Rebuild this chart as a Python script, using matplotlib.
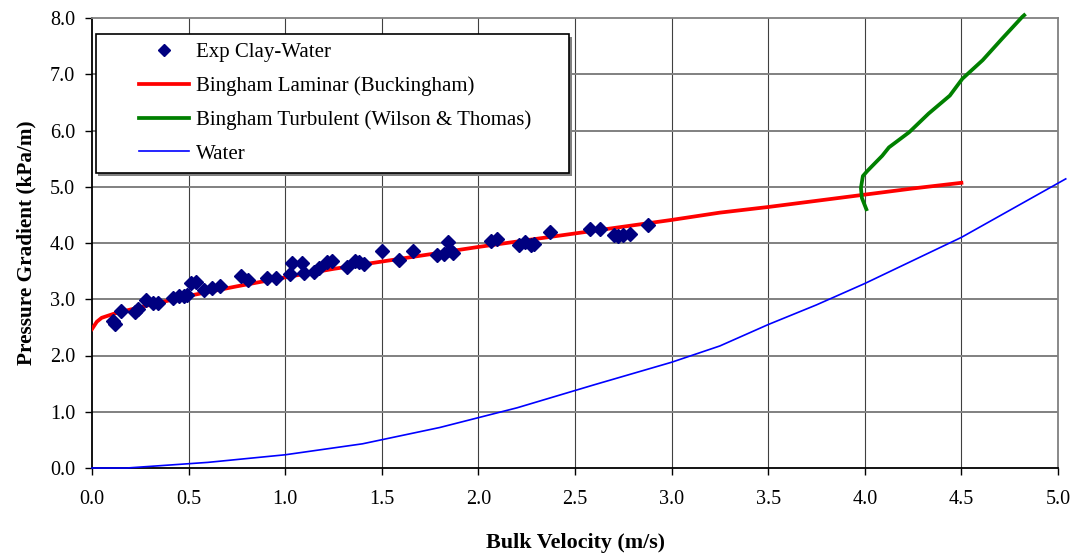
import matplotlib.pyplot as plt
from matplotlib.patches import Rectangle
from matplotlib.lines import Line2D

# experimental clay-water points (velocity m/s, gradient kPa/m)
exp_v = [0.11, 0.12, 0.15, 0.22, 0.24, 0.28, 0.315, 0.34, 0.42, 0.45, 0.475, 0.49,
         0.51, 0.54, 0.58, 0.62, 0.665, 0.77, 0.81, 0.906, 0.95,
         1.027, 1.036, 1.087, 1.096, 1.147, 1.173, 1.217, 1.243, 1.32, 1.363, 1.38,
         1.406, 1.50, 1.587, 1.66, 1.786, 1.82, 1.843, 1.855, 1.87,
         2.065, 2.096, 2.21, 2.24, 2.27, 2.29, 2.37, 2.58, 2.63, 2.70, 2.725, 2.75,
         2.786, 2.877]
exp_dp = [2.62, 2.56, 2.80, 2.78, 2.82, 2.99, 2.93, 2.93, 3.02, 3.05, 3.05, 3.08,
          3.29, 3.31, 3.17, 3.20, 3.23, 3.42, 3.35, 3.38, 3.38,
          3.45, 3.64, 3.64, 3.46, 3.49, 3.55, 3.67, 3.68, 3.58, 3.68, 3.67,
          3.62, 3.86, 3.70, 3.86, 3.79, 3.80, 4.02, 3.88, 3.82,
          4.03, 4.07, 3.97, 4.01, 3.97, 3.99, 4.19, 4.25, 4.25, 4.15, 4.12, 4.15,
          4.16, 4.32]

# Bingham laminar (Buckingham)
lam_v = [0.0, 0.025, 0.05, 0.12, 0.25, 0.5, 0.75, 1.0, 1.25, 1.5, 1.75, 2.0, 2.25,
         2.5, 2.75, 3.0, 3.25, 3.5, 3.75, 4.0, 4.25, 4.5]
lam_dp = [2.47, 2.6, 2.67, 2.75, 2.86, 3.06, 3.23, 3.39, 3.54, 3.67, 3.8, 3.93, 4.05,
          4.17, 4.29, 4.41, 4.54, 4.64, 4.75, 4.86, 4.97, 5.07]

# Bingham turbulent (Wilson & Thomas)
turb_v = [4.008, 3.985, 3.98, 3.99, 4.013, 4.03, 4.09, 4.125, 4.23, 4.33, 4.44,
          4.505, 4.61, 4.71, 4.815, 4.825]
turb_dp = [4.60, 4.80, 4.98, 5.19, 5.28, 5.34, 5.55, 5.70, 5.97, 6.30, 6.62,
           6.92, 7.25, 7.63, 8.02, 8.05]

# water
water_v = [0.0, 0.18, 0.6, 1.0, 1.4, 1.8, 2.2, 2.6, 3.0, 3.25, 3.5, 3.75, 4.0,
           4.5, 5.04]
water_dp = [0.0, 0.0, 0.1, 0.235, 0.43, 0.72, 1.07, 1.48, 1.88, 2.17, 2.55, 2.9,
            3.28, 4.1, 5.14]

x_ticks = [0.0, 0.5, 1.0, 1.5, 2.0, 2.5, 3.0, 3.5, 4.0, 4.5, 5.0]
y_ticks = [0.0, 1.0, 2.0, 3.0, 4.0, 5.0, 6.0, 7.0, 8.0]

plt.rcParams['font.family'] = ['Liberation Serif', 'DejaVu Serif']

fig = plt.figure(figsize=(10.8, 5.57), dpi=100)
ax = fig.add_axes([92 / 1080, 1 - 468 / 557, 966 / 1080, 450 / 557])

ax.plot(lam_v, lam_dp, color='#ff0000', lw=2.7, zorder=3)
ax.plot(turb_v, turb_dp, color='#008000', lw=2.7, zorder=3, clip_on=False)
ax.plot(water_v, water_dp, color='#0000ff', lw=1.2, zorder=3, clip_on=False)
ax.plot(exp_v, exp_dp, 'D', color='#000080', ms=7, mec='#000080', zorder=4)

ax.set_xlim(0, 5)
ax.set_ylim(0, 8)
ax.set_xticks(x_ticks)
ax.set_yticks(y_ticks)
ax.set_xticklabels([f'{v:.1f}' for v in x_ticks])
ax.set_yticklabels([f'{v:.1f}' for v in y_ticks])
ax.tick_params(direction='out', length=5, width=1, labelsize=14.5, color='black')
ax.tick_params(axis='x', pad=11)
ax.tick_params(axis='y', pad=7)

for v in x_ticks[1:-1]:
    ax.axvline(v, color='#404040', lw=0.8, zorder=1)
for v in y_ticks[1:-1]:
    ax.axhline(v, color='#808080', lw=1.4, zorder=1)

ax.spines['left'].set_color('black')
ax.spines['bottom'].set_color('black')
ax.spines['top'].set_color('#808080')
ax.spines['right'].set_color('#808080')
for s in ax.spines.values():
    s.set_linewidth(1.3)

ax.set_xlabel('Bulk Velocity (m/s)', fontsize=15.8, fontweight='bold', labelpad=17)
ax.set_ylabel('Pressure Gradient (kPa/m)', fontsize=15.3, fontweight='bold', labelpad=10)

# legend frame with shadow
x0, y0, w, h = 0.0037, 0.656, 0.49, 0.308
ax.add_patch(Rectangle((x0 + 0.003, y0 - 0.006), w, h, transform=ax.transAxes,
                       facecolor='#808080', edgecolor='none', zorder=5))
ax.add_patch(Rectangle((x0, y0), w, h, transform=ax.transAxes,
                       facecolor='white', edgecolor='black', lw=1.2, zorder=6))

handles = [
    Line2D([], [], ls='none', marker='D', color='#000080', ms=7),
    Line2D([], [], color='#ff0000', lw=2.7),
    Line2D([], [], color='#008000', lw=2.7),
    Line2D([], [], color='#0000ff', lw=1.2),
]
labels = ['Exp Clay-Water', 'Bingham Laminar (Buckingham)',
          'Bingham Turbulent (Wilson & Thomas)', 'Water']
leg = ax.legend(handles, labels, loc='upper left', bbox_to_anchor=(47 / 966, 0.945),
                frameon=False, fontsize=15, borderpad=0, borderaxespad=0,
                handlelength=2.4, handletextpad=0.33, labelspacing=0.675, markerscale=0.9)
leg.set_zorder(7)

fig.savefig('out.png', dpi=100)
